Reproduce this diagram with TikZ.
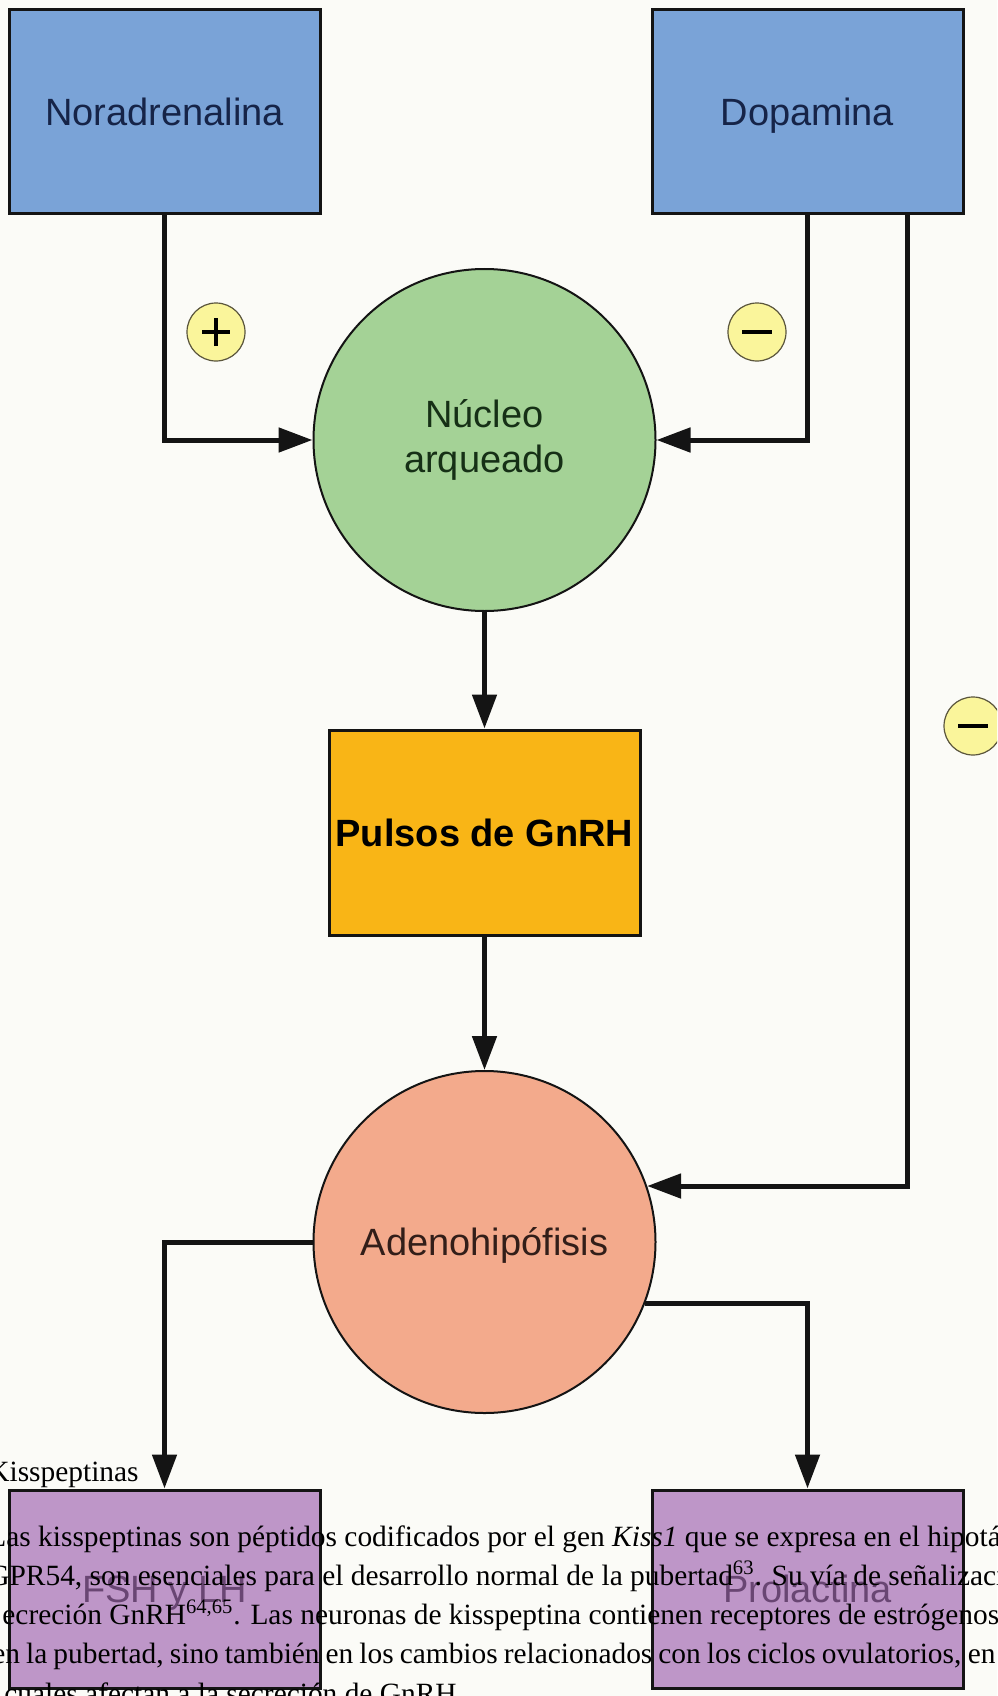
\documentclass[tikz,border=0pt]{standalone}
\usepackage{fontspec}
\setmainfont{Liberation Serif}
\newfontfamily\diagfont{Liberation Sans}
\usetikzlibrary{arrows.meta}

\definecolor{bgc}{RGB}{251,251,247}
\definecolor{boxblue}{RGB}{122,163,215}
\definecolor{txtblue}{RGB}{22,36,72}
\definecolor{nucgreen}{RGB}{164,210,150}
\definecolor{txtgreen}{RGB}{22,48,22}
\definecolor{gnorange}{RGB}{249,181,22}
\definecolor{adsalmon}{RGB}{243,170,140}
\definecolor{txtbrown}{RGB}{50,30,25}
\definecolor{hpurple}{RGB}{190,150,200}
\definecolor{txtpurple}{RGB}{105,70,115}
\definecolor{signyellow}{RGB}{250,245,155}
\definecolor{signedge}{RGB}{90,85,60}
\definecolor{linec}{RGB}{20,20,20}

\begin{document}
\begin{tikzpicture}[x=0.5pt,y=-0.5pt,
  box/.style={draw=linec, line width=1.5pt, minimum width=155.5pt, minimum height=102pt, inner sep=0pt,
    text height=13.6pt, text depth=0pt, font=\diagfont\fontsize{19}{23}\selectfont},
  roundnode/.style={circle, draw=linec, line width=1pt, minimum size=171pt, inner sep=0pt, align=center,
    font=\diagfont\fontsize{19}{22.5}\selectfont},
  conn/.style={draw=linec, line width=2.5pt, -{Triangle[length=17pt,width=12pt]}},
  sign/.style={circle, fill=signyellow, draw=signedge, line width=0.6pt, minimum size=29pt, inner sep=0pt},
  signbar/.style={line width=2.4pt, draw=black},
  paratext/.style={anchor=base west, inner sep=0pt, font=\fontsize{14.7}{17}\selectfont}
]
\path[fill=bgc] (0,0) rectangle (997,1696);
\useasboundingbox (0,0) rectangle (997,1696);
\clip (0,0) rectangle (997,1696);

\node[box, fill=boxblue, text=txtblue] (nor) at (164.5,112) {Noradrenalina};
\node[box, fill=boxblue, text=txtblue] (dop) at (807.5,112) {Dopamina};
\node[roundnode, fill=nucgreen, text=txtgreen] (nuc) at (484.5,440) {Núcleo\\arqueado};
\node[box, fill=gnorange, minimum height=102.5pt, font=\diagfont\bfseries\fontsize{19}{23}\selectfont] (gn) at (484.5,832.5) {Pulsos de GnRH};
\node[roundnode, fill=adsalmon, text=txtbrown, text height=13.6pt, text depth=0pt] (ad) at (484.5,1242) {Adenohipófisis};
\node[box, fill=hpurple, text=txtpurple, minimum height=99pt] (fsh) at (164.5,1589) {FSH y LH};
\node[box, fill=hpurple, text=txtpurple, minimum height=99pt] (prl) at (807.5,1589) {Prolactina};

\node[sign] (s1) at (216,332) {};
\node[sign] (s2) at (757,332) {};
\node[sign] (s3) at (973,726) {};
\draw[signbar] ([xshift=-7pt]s1.center) -- ([xshift=7pt]s1.center)
               ([yshift=-7pt]s1.center) -- ([yshift=7pt]s1.center);
\draw[signbar] ([xshift=-7.5pt]s2.center) -- ([xshift=7.5pt]s2.center);
\draw[signbar] ([xshift=-7.5pt]s3.center) -- ([xshift=7.5pt]s3.center);

\coordinate (d2) at ([xshift=49.75pt]dop.south);
\draw[conn] (nor.south) |- (nuc.west);
\draw[conn] (dop.south) |- (nuc.east);
\draw[conn] (d2) |- (ad.19.5);
\draw[conn] (nuc.south) -- (gn.north);
\draw[conn] (gn.south) -- (ad.north);
\draw[conn] (ad.west) -| (fsh.north);
\draw[conn] (ad.-21) -| (prl.north);

\node[paratext] (t0) at (-12,1481) {Kisspeptinas};
\node[paratext] (t1) at (-12,1546) {Las kisspeptinas son péptidos codificados por el gen \textit{Kiss1} que se expresa en el hipotá};
\node[paratext] (t2) at (-12,1585) {GPR54, son esenciales para el desarrollo normal de la pubertad\textsuperscript{63}. Su vía de señalizaci};
\node[paratext] (t3) at (2,1624) {ecreción GnRH\textsuperscript{64,65}. Las neuronas de kisspeptina contienen receptores de estrógenos};
\node[paratext] (t4) at (-8,1663) {\makebox[501.5pt][s]{en la pubertad, sino también en los cambios relacionados con los ciclos ovulatorios, en}};
\node[paratext] (t5) at (4,1703) {cuales afectan a la secreción de GnRH};
\end{tikzpicture}
\end{document}
